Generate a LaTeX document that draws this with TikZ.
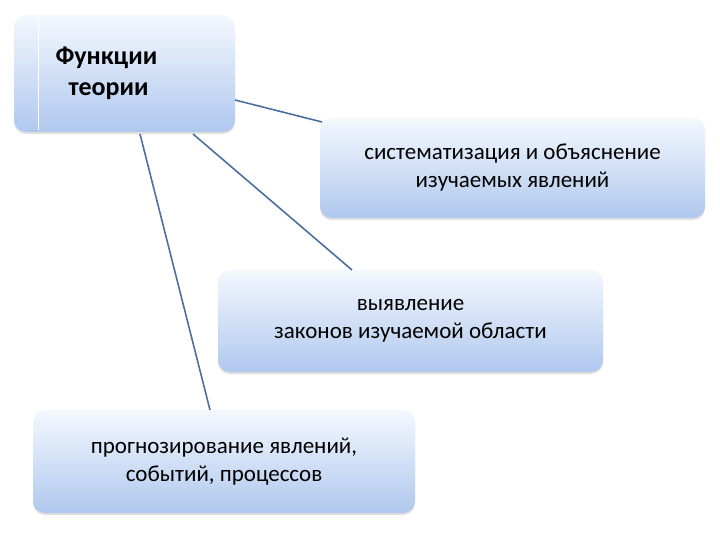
\documentclass[tikz,border=0pt]{standalone}
\usepackage{fontspec}
\setmainfont{Carlito}
\usetikzlibrary{shadows}
\definecolor{boxtop}{HTML}{F4F8FE}
\definecolor{boxbot}{HTML}{AFC8EE}
\definecolor{linec}{HTML}{4F6E9E}
\tikzset{
  box/.style={rounded corners=12pt, top color=boxtop, bottom color=boxbot, draw=none,
    drop shadow={shadow xshift=0pt, shadow yshift=-2pt, opacity=0.25, fill=gray}},
  conn/.style={draw=linec, line width=1.6pt},
  lbl/.style={font=\fontsize{23}{28}\selectfont, align=center, text=black}
}
\begin{document}
\begin{tikzpicture}[x=1pt,y=-1pt]
\useasboundingbox (0,0) rectangle (720,540);
\node[box, minimum width=221pt, minimum height=117pt] (f) at (124.5,73.5) {};
\draw[white, line width=1pt] (38,18) -- (38,130);
\node[lbl, font=\fontsize{26}{31}\selectfont\bfseries, align=left, anchor=west] (ft) at (52,73) {Функции\\\hspace*{0.5em}теории};
\node[box, minimum width=385pt, minimum height=100pt] (s) at (512.5,168) {};
\node[lbl] (st) at (512.5,168) {систематизация и объяснение\\изучаемых явлений};
\node[box, minimum width=385pt, minimum height=102pt] (z) at (410.5,321) {};
\node[lbl] (zt) at (410.5,321) {выявление\\законов изучаемой области};
\node[box, minimum width=382pt, minimum height=103pt] (p) at (224,461.5) {};
\node[lbl] (pt) at (224,461.5) {прогнозирование явлений,\\событий, процессов};
\coordinate (a1) at (235,100); \coordinate (b1) at (322,122);
\coordinate (a2) at (193,134); \coordinate (b2) at (352,270);
\coordinate (a3) at (140,134); \coordinate (b3) at (210,410);
\draw[conn] (a1) -- (b1);
\draw[conn] (a2) -- (b2);
\draw[conn] (a3) -- (b3);
\end{tikzpicture}
\end{document}
